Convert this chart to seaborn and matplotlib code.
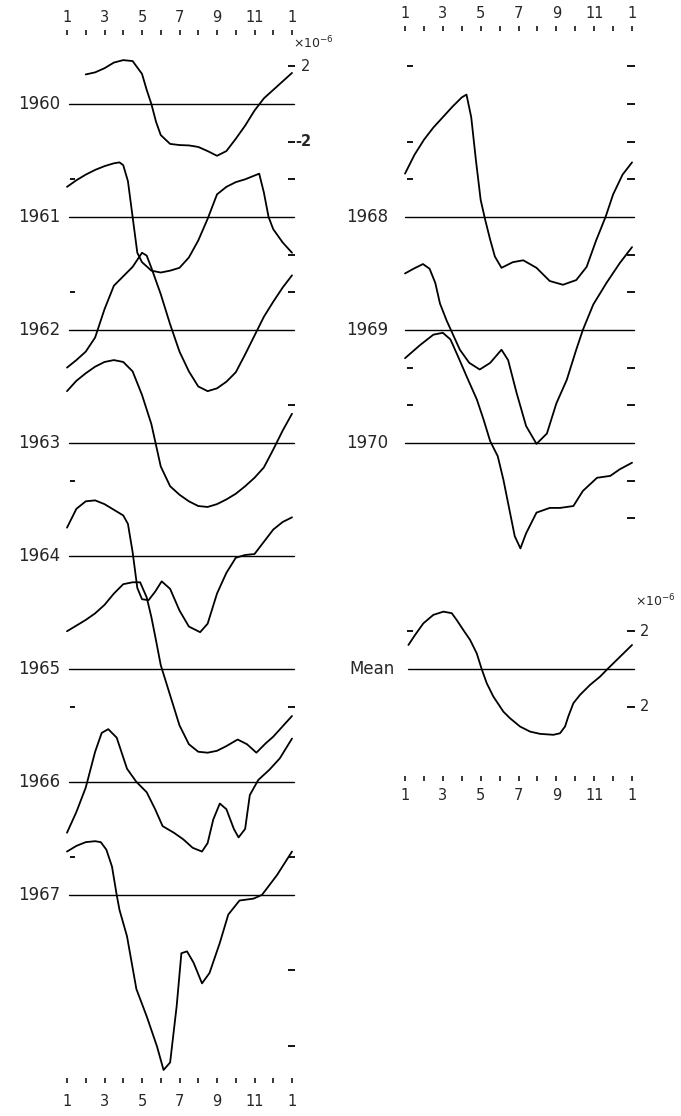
import numpy as np
import matplotlib
matplotlib.use("Agg")
import matplotlib.pyplot as plt
import seaborn as sns

# Curves: month (1 = Jan ... 13 = next Jan) and value in units of 1e-6,
# read relative to each year's own baseline
m1960 = [2, 2.5, 3, 3.5, 4, 4.5, 5, 5.25, 5.5, 5.75, 6, 6.5, 7, 7.5, 8, 8.5, 9, 9.5, 10, 10.5, 11, 11.5, 12, 12.5, 13]
v1960 = [1.57, 1.68, 1.9, 2.2, 2.33, 2.28, 1.6, 0.75, 0.0, -0.95, -1.65, -2.12, -2.18, -2.2, -2.28, -2.5, -2.75, -2.5, -1.85, -1.15, -0.35, 0.3, 0.75, 1.2, 1.65]

m1961 = [1, 1.5, 2, 2.5, 3, 3.5, 3.8, 4.0, 4.25, 4.5, 4.75, 5, 5.5, 6, 6.5, 7, 7.5, 8, 8.5, 9, 9.5, 10, 10.5, 11, 11.25, 11.5, 11.75, 12, 12.5, 13]
v1961 = [1.6, 1.95, 2.25, 2.5, 2.7, 2.85, 2.9, 2.75, 1.9, 0.0, -1.9, -2.4, -2.85, -2.95, -2.85, -2.7, -2.15, -1.25, -0.1, 1.2, 1.6, 1.85, 2.0, 2.2, 2.3, 1.3, 0.0, -0.65, -1.35, -1.9]

m1962 = [1, 1.5, 2, 2.5, 3, 3.5, 4, 4.5, 5, 5.25, 5.5, 6, 6.5, 7, 7.5, 8, 8.5, 9, 9.5, 10, 10.5, 11, 11.5, 12, 12.5, 13]
v1962 = [-2.0, -1.6, -1.15, -0.4, 1.1, 2.35, 2.85, 3.35, 4.1, 3.95, 3.3, 1.9, 0.3, -1.15, -2.2, -3.0, -3.25, -3.1, -2.75, -2.25, -1.3, -0.3, 0.7, 1.5, 2.25, 2.9]

m1963 = [1, 1.5, 2, 2.5, 3, 3.5, 4, 4.5, 5, 5.5, 6, 6.5, 7, 7.5, 8, 8.5, 9, 9.5, 10, 10.5, 11, 11.5, 12, 12.5, 13]
v1963 = [2.75, 3.3, 3.7, 4.05, 4.3, 4.4, 4.3, 3.8, 2.55, 1.0, -1.25, -2.3, -2.75, -3.1, -3.35, -3.4, -3.25, -3.0, -2.7, -2.3, -1.85, -1.3, -0.35, 0.65, 1.55]

m1964 = [1, 1.5, 2, 2.5, 3, 3.5, 4, 4.25, 4.5, 4.75, 5, 5.35, 5.7, 6.05, 6.5, 7, 7.5, 8.1, 8.5, 9, 9.5, 10, 10.5, 11, 11.5, 12, 12.5, 13]
v1964 = [1.5, 2.5, 2.9, 2.95, 2.75, 2.45, 2.15, 1.7, 0.2, -1.7, -2.3, -2.35, -1.9, -1.35, -1.75, -2.9, -3.75, -4.05, -3.6, -2.0, -0.9, -0.1, 0.05, 0.1, 0.75, 1.4, 1.8, 2.05]

m1965 = [1, 1.5, 2, 2.5, 3, 3.5, 4, 4.5, 4.9, 5.25, 5.5, 5.75, 6, 6.5, 7, 7.5, 8, 8.5, 9, 9.5, 10.1, 10.6, 11.1, 11.6, 12, 12.5, 13]
v1965 = [2.0, 2.3, 2.6, 2.95, 3.4, 4.0, 4.5, 4.6, 4.6, 3.8, 2.75, 1.5, 0.2, -1.4, -3.0, -4.0, -4.4, -4.45, -4.35, -4.1, -3.75, -4.0, -4.45, -3.95, -3.6, -3.05, -2.5]

m1966 = [1, 1.5, 2, 2.5, 2.85, 3.2, 3.65, 4.2, 4.7, 5.25, 5.7, 6.1, 6.7, 7.2, 7.7, 8.2, 8.5, 8.8, 9.15, 9.5, 9.9, 10.15, 10.5, 10.75, 11.2, 11.8, 12.35, 13]
v1966 = [-2.7, -1.6, -0.3, 1.6, 2.6, 2.8, 2.35, 0.7, 0.0, -0.55, -1.45, -2.35, -2.7, -3.05, -3.5, -3.7, -3.25, -2.0, -1.15, -1.45, -2.5, -2.95, -2.5, -0.7, 0.1, 0.65, 1.25, 2.3]

m1967 = [1, 1.5, 2, 2.5, 2.8, 3.1, 3.4, 3.65, 3.8, 4.2, 4.7, 5.25, 5.8, 6.15, 6.5, 6.85, 7.1, 7.4, 7.75, 8.2, 8.6, 9.15, 9.6, 10.2, 10.95, 11.4, 12.2, 13]
v1967 = [2.3, 2.6, 2.8, 2.85, 2.8, 2.4, 1.5, 0.0, -0.8, -2.2, -5.0, -6.45, -8.05, -9.3, -8.9, -5.9, -3.1, -3.0, -3.6, -4.7, -4.15, -2.55, -1.05, -0.3, -0.2, 0.0, 1.05, 2.3]

m1968 = [1, 1.5, 2, 2.5, 3, 3.5, 4, 4.25, 4.5, 4.75, 5, 5.25, 5.5, 5.75, 6.1, 6.7, 7.25, 7.95, 8.65, 9.35, 10.05, 10.6, 11.1, 11.6, 12, 12.5, 13]
v1968 = [2.3, 3.3, 4.1, 4.75, 5.3, 5.85, 6.35, 6.5, 5.3, 3.0, 0.9, -0.2, -1.2, -2.1, -2.7, -2.4, -2.3, -2.7, -3.4, -3.6, -3.35, -2.65, -1.25, 0.0, 1.2, 2.25, 2.9]

m1969 = [1, 1.45, 1.95, 2.3, 2.6, 2.85, 3.2, 3.9, 4.4, 4.95, 5.5, 6.1, 6.45, 6.9, 7.4, 7.95, 8.5, 9.0, 9.55, 10.05, 10.4, 10.95, 11.65, 12.35, 13]
v1969 = [3.0, 3.25, 3.5, 3.25, 2.5, 1.4, 0.5, -1.05, -1.75, -2.1, -1.75, -1.05, -1.6, -3.35, -5.1, -6.05, -5.5, -3.9, -2.65, -1.05, 0.0, 1.35, 2.5, 3.55, 4.4]

m1970 = [1, 1.8, 2.5, 3.0, 3.4, 3.8, 4.25, 4.8, 5.15, 5.5, 5.9, 6.2, 6.55, 6.8, 7.1, 7.4, 7.95, 8.65, 9.2, 9.9, 10.4, 11.15, 11.85, 12.35, 13]
v1970 = [4.5, 5.2, 5.75, 5.85, 5.5, 4.6, 3.55, 2.3, 1.25, 0.1, -0.7, -1.95, -3.7, -4.95, -5.6, -4.8, -3.7, -3.45, -3.45, -3.35, -2.55, -1.85, -1.75, -1.4, -1.05]

m_mean = [1.18, 1.53, 1.97, 2.5, 3.03, 3.47, 3.73, 4.08, 4.44, 4.79, 5.05, 5.32, 5.67, 6.2, 6.55, 7.08, 7.61, 8.14, 8.84, 9.19, 9.46, 9.63, 9.9, 10.25, 10.78, 11.31, 11.75, 12.37, 13]
v_mean = [1.27, 1.8, 2.42, 2.87, 3.04, 2.96, 2.6, 2.07, 1.54, 0.83, 0.0, -0.76, -1.47, -2.27, -2.62, -3.06, -3.33, -3.45, -3.5, -3.42, -3.06, -2.53, -1.82, -1.38, -0.85, -0.41, 0.04, 0.65, 1.27]

left_labels = ["1960", "1961", "1962", "1963", "1964", "1965", "1966", "1967"]
right_labels = ["1968", "1969", "1970", "Mean"]

tick_months = list(range(1, 14))
tick_labels = ["1", "3", "5", "7", "9", "11", "1"]

# small y-scale dashes (units of 1e-6 in column coordinates)
left_col_left_ticks = [-4, -10, -20, -32, -40]
left_col_right_ticks = [2, -2, -4, -8, -10, -16, -32, -40, -46, -50]
right_col_left_ticks = [2, -2, -4, -14, -16, -28]
right_col_right_ticks = [2, 0, -2, -4, -8, -10, -14, -16, -20, -22, -28, -32]

curves = {
    "1960": (m1960, v1960), "1961": (m1961, v1961), "1962": (m1962, v1962),
    "1963": (m1963, v1963), "1964": (m1964, v1964), "1965": (m1965, v1965),
    "1966": (m1966, v1966), "1967": (m1967, v1967), "1968": (m1968, v1968),
    "1969": (m1969, v1969), "1970": (m1970, v1970), "Mean": (m_mean, v_mean),
}

sns.set_style("white")
plt.rcParams['font.family'] = ['DejaVu Sans']

W, H = 681, 1116
fig = plt.figure(figsize=(W / 100, H / 100), dpi=100)

PXU = 18.83          # pixels per 1e-6 unit
TOP0 = 104           # pixel row of the first baseline
STEP = 6             # units between stacked baselines
ylim = (-(H - TOP0) / PXU, TOP0 / PXU)

def make_axes(x0, x1, jan_px, pxm):
    ax = fig.add_axes([x0 / W, 0, (x1 - x0) / W, 1])
    ax.set_xlim(1 - (jan_px - x0) / pxm, 1 + (x1 - jan_px) / pxm)
    ax.set_ylim(*ylim)
    ax.axis("off")
    return ax

axL = make_axes(0, 340, 67, 18.75)
axR = make_axes(340, 681, 405, 18.92)

def y_at(px):
    return (TOP0 - px) / PXU

def draw_row(ax, label, row, x_text, start=1.1):
    base = -STEP * row
    ax.plot([start, 13.1], [base, base], color="black", lw=1.0)
    m, v = curves[label]
    sns.lineplot(x=m, y=np.array(v) + base, ax=ax, color="black", lw=1.3,
                 estimator=None, sort=False, solid_joinstyle="round",
                 solid_capstyle="round")
    ax.text(x_text, base, label, ha="right", va="center", fontsize=12)

for i, lab in enumerate(left_labels):
    draw_row(axL, lab, i, 0.62)

for lab, row in zip(right_labels, [1, 2, 3, 5]):
    draw_row(axR, lab, row, 0.47 if lab == "Mean" else 0.1,
             start=1.15 if lab == "Mean" else 1.0)

# month scales
def month_scale(ax, tick_px, label_px):
    t0, t1 = y_at(tick_px - 2.5), y_at(tick_px + 2.5)
    ax.vlines(tick_months, t1, t0, color="black", lw=1.1)
    for m, lab in zip(tick_months[::2], tick_labels):
        ax.text(m, y_at(label_px), lab, ha="center", va="center", fontsize=10.5)

month_scale(axL, 32, 17)
month_scale(axR, 28, 13)
month_scale(axL, 1080, 1101)
month_scale(axR, 778, 795)

# y-scale dashes
axL.hlines(left_col_left_ticks, 1.15, 1.45, color="black", lw=1.3)
axL.hlines(left_col_right_ticks, 12.8, 13.15, color="black", lw=1.3)
axR.hlines(right_col_left_ticks, 1.1, 1.4, color="black", lw=1.3)
axR.hlines(right_col_right_ticks, 12.75, 13.15, color="black", lw=1.3)

# scale annotations
axL.text(14.12, y_at(43), r"$\times10^{-6}$", ha="center", va="center", fontsize=9)
axL.text(13.45, 2, "2", ha="left", va="center", fontsize=10.5)
axL.text(13.2, -2, "-2", ha="left", va="center", fontsize=10.5, fontweight="bold")
axR.text(14.21, y_at(601), r"$\times10^{-6}$", ha="center", va="center", fontsize=9)
axR.text(13.4, -28, "2", ha="left", va="center", fontsize=10.5)
axR.text(13.4, -32, "2", ha="left", va="center", fontsize=10.5)

fig.savefig("out.png", dpi=100)
